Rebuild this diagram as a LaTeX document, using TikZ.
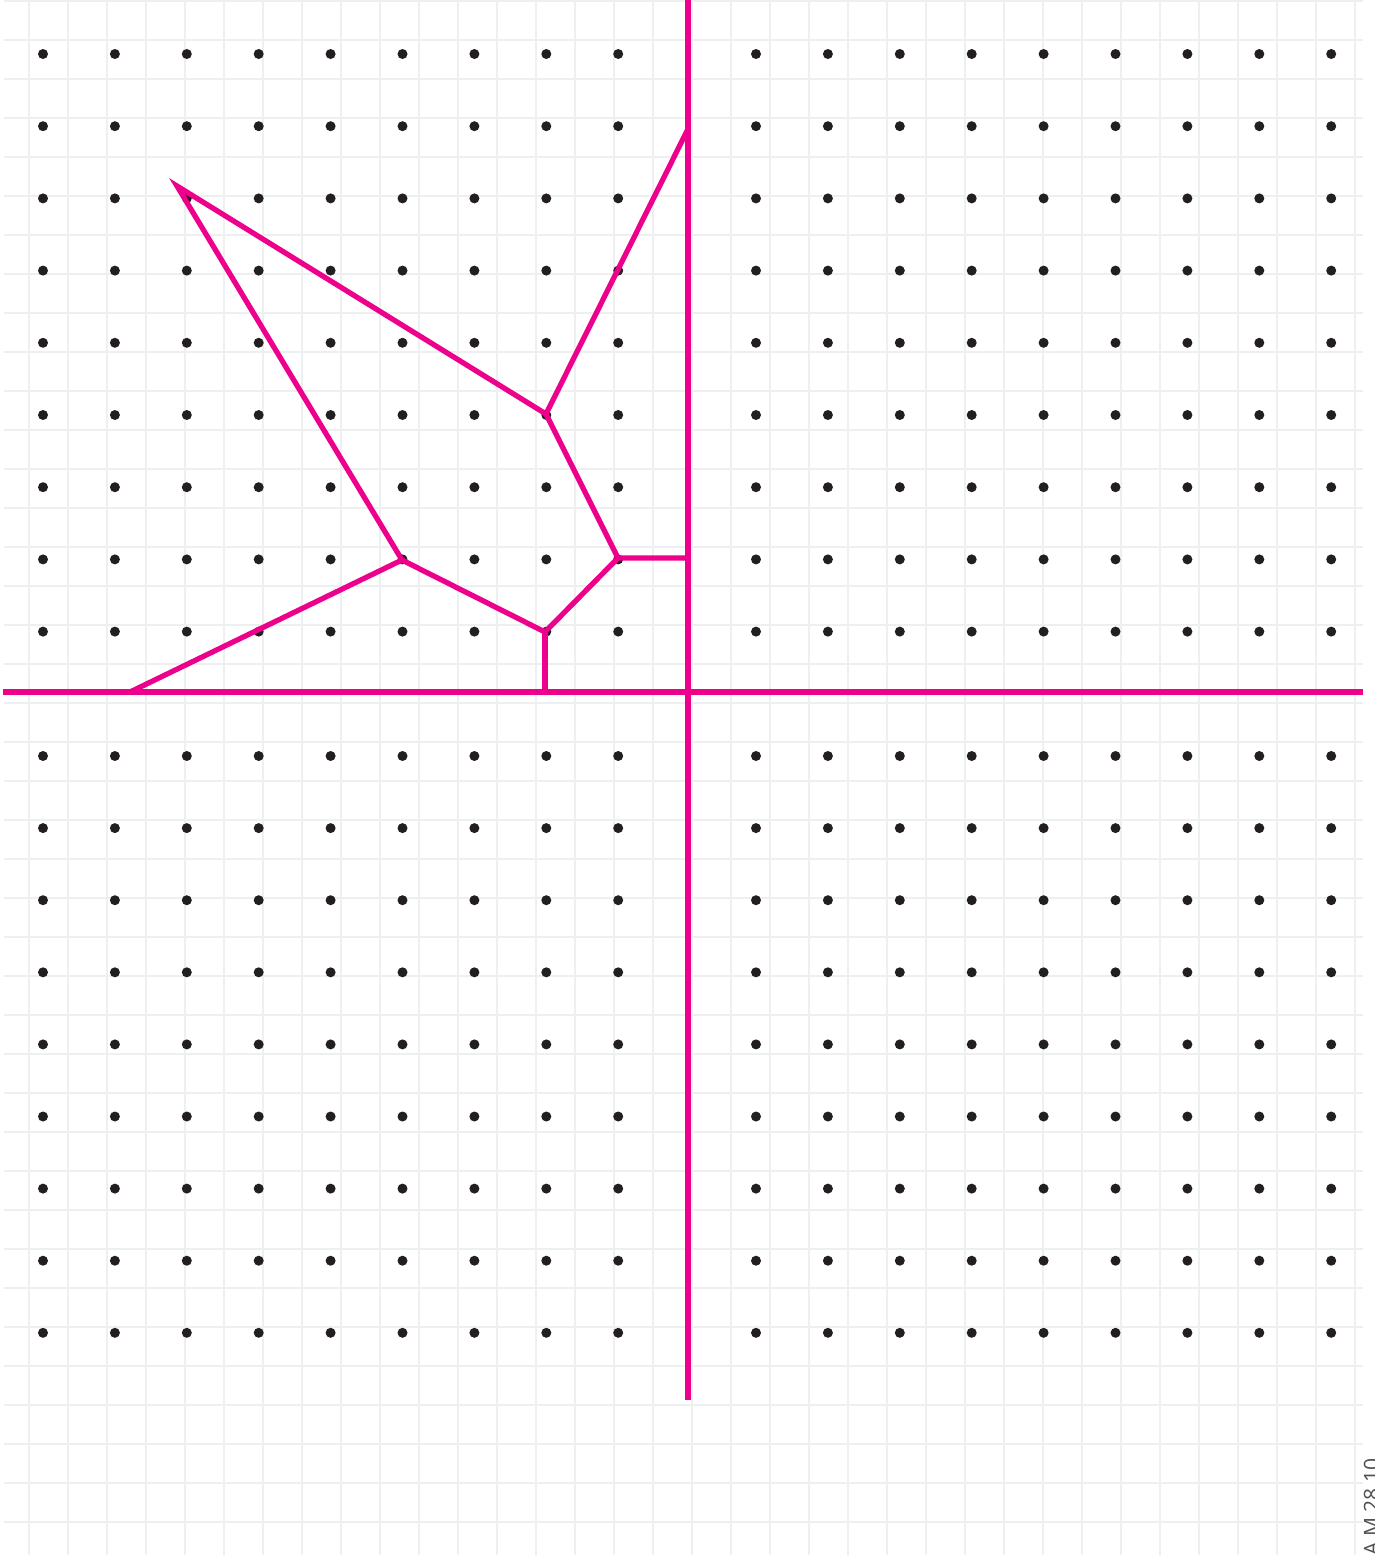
\documentclass[tikz,border=0pt]{standalone}
\usepackage{fontspec}
\setsansfont{Open Sans}
\usetikzlibrary{positioning}
\definecolor{cellpink}{RGB}{236,0,140}
\definecolor{gridgray}{RGB}{238,239,241}
\definecolor{dotblack}{RGB}{35,31,32}
\definecolor{stampgray}{RGB}{80,80,80}

\begin{document}
\begin{tikzpicture}[
        x=0.02cm, y=-0.02cm,
        gridline/.style={draw=gridgray, line width=0.04cm},
        axisline/.style={draw=cellpink, line width=0.11cm},
        cell/.style={draw=cellpink, line width=0.105cm},
        dotmark/.style={fill=dotblack},
        stamp/.style={font=\sffamily\fontsize{12}{12}\selectfont, text=stampgray, rotate=90, inner sep=0pt}
    ]
        \useasboundingbox (0,0) rectangle (1375,1555);
        \foreach \k in {0,...,34} \draw[gridline] ({29+39*\k},0) -- ({29+39*\k},1555);
        \foreach \k in {0,...,39} \draw[gridline] (4,{1+39*\k}) -- (1363,{1+39*\k});

        \foreach \i in {0,...,8} {
            \foreach \j in {0,...,8} {
                \fill[dotmark] ({43+71.9*\i},{54+72.2*\j}) circle[radius=0.1cm];
                \fill[dotmark] ({756+71.9*\i},{54+72.2*\j}) circle[radius=0.1cm];
                \fill[dotmark] ({43+71.9*\i},{756+72.1*\j}) circle[radius=0.1cm];
                \fill[dotmark] ({756+71.9*\i},{756+72.1*\j}) circle[radius=0.1cm];
            }
        }

        \coordinate (top)    at (688,0);
        \coordinate (bottom) at (688,1400);
        \coordinate (left)   at (3,692);
        \coordinate (right)  at (1363,692);
        \draw[axisline] (top) -- (bottom);
        \draw[axisline] (left) -- (right);

        \coordinate (tip)   at (177,186);
        \coordinate (mid)   at (546,414);
        \coordinate (up)    at (688,129);
        \coordinate (knee)  at (618,558);
        \coordinate (side)  at (688,558);
        \coordinate (low)   at (545,632);
        \coordinate (foot)  at (545,692);
        \coordinate (elbow) at (402,560);
        \coordinate (tail)  at (130,692);

        \draw[cell] (tail) -- (elbow) -- (tip) -- (mid) -- (up);
        \draw[cell] (mid) -- (knee) -- (side);
        \draw[cell] (knee) -- (low) -- (elbow);
        \draw[cell] (low) -- (foot);

        \node[stamp, anchor=base east] (code) at (1379,1458) {A M 28 10};
    \end{tikzpicture}
\end{document}
